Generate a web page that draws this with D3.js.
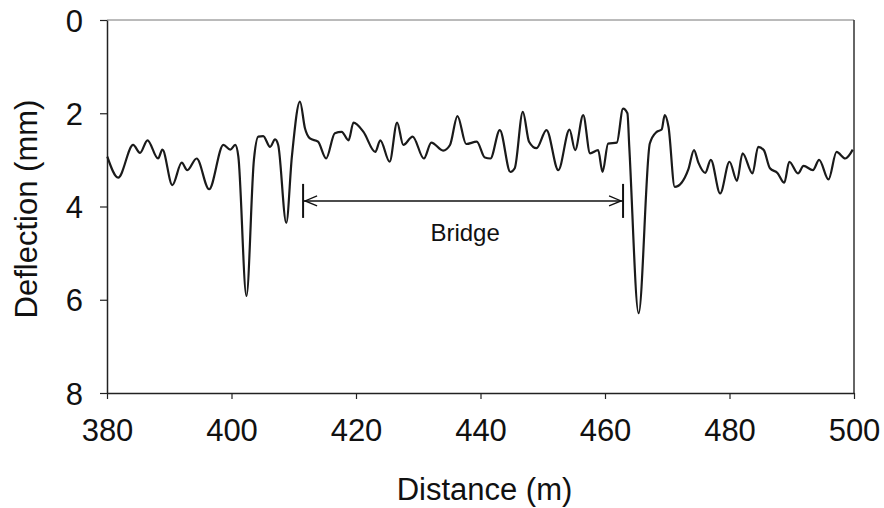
<!DOCTYPE html>
<html>
<head>
<meta charset="utf-8">
<script src="https://cdn.jsdelivr.net/npm/d3@7"></script>
<style>
  body { margin: 0; background: #fff; }
  text { font-family: "Liberation Sans", Arial, sans-serif; fill: #111; }
</style>
</head>
<body>
<svg id="chart" width="884" height="508"></svg>
<script>
const distance = [
  380.05, 381.8, 384.2, 385.3, 386.5, 388.2, 388.9, 390.5, 392.0, 392.9,
  394.4, 396.4, 398.7, 399.8, 400.6, 401.1, 402.4, 403.6, 404.3, 405.1,
  406.2, 407.0, 407.5, 408.8, 409.7, 411.0, 411.8, 412.6, 413.9, 415.2,
  416.6, 417.7, 418.8, 419.6, 421.2, 423.1, 423.9, 425.4, 426.6, 427.6,
  429.1, 430.9, 432.1, 434.0, 435.1, 436.3, 437.7, 439.4, 440.7, 441.6,
  443.1, 444.8, 445.5, 446.8, 447.8, 449.0, 450.6, 452.5, 454.3, 455.2,
  456.5, 457.6, 458.9, 459.6, 460.5, 461.9, 462.9, 463.6, 463.9, 465.4,
  467.2, 468.3, 469.1, 469.6, 470.2, 471.2, 472.3, 473.4, 474.3, 475.0,
  476.1, 477.0, 478.5, 480.0, 481.2, 482.1, 483.7, 484.6, 485.5, 486.5,
  487.7, 488.8, 489.6, 491.0, 491.9, 493.4, 494.4, 495.9, 497.2, 498.6,
  499.8
];
const deflection = [
  2.93, 3.38, 2.68, 2.85, 2.58, 2.97, 2.78, 3.54, 3.06, 3.22,
  2.97, 3.63, 2.68, 2.78, 2.68, 2.93, 5.92, 3.00, 2.50, 2.49,
  2.72, 2.56, 2.68, 4.35, 2.93, 1.75, 2.32, 2.54, 2.61, 2.97,
  2.43, 2.40, 2.58, 2.20, 2.40, 2.83, 2.58, 3.04, 2.20, 2.68,
  2.50, 2.97, 2.63, 2.80, 2.68, 2.06, 2.66, 2.61, 2.95, 2.97,
  2.36, 3.26, 3.18, 1.97, 2.61, 2.75, 2.36, 3.22, 2.35, 2.79,
  2.04, 2.86, 2.79, 3.26, 2.65, 2.63, 1.90, 2.00, 2.72, 6.29,
  2.65, 2.40, 2.35, 2.04, 2.29, 3.58, 3.49, 3.20, 2.79, 3.06,
  3.28, 3.00, 3.72, 3.04, 3.45, 2.86, 3.29, 2.72, 2.79, 3.18,
  3.28, 3.49, 3.04, 3.29, 3.13, 3.22, 3.00, 3.42, 2.83, 2.97,
  2.78
];
const xTicks = [380, 400, 420, 440, 460, 480, 500];
const yTicks = [0, 2, 4, 6, 8];
const bridgeSpan = [411.5, 462.9];   // start / end of the bridge (m)
const bridgeLevel = 3.88;            // deflection level the marker is drawn at
const bridgeLabel = "Bridge";

const svg = d3.select("#chart");
const margin = {top: 20, right: 30, bottom: 115, left: 107};
const width = +svg.attr("width") - margin.left - margin.right;
const height = +svg.attr("height") - margin.top - margin.bottom;

const x = d3.scaleLinear().domain([380, 500]).range([0, width]);
const y = d3.scaleLinear().domain([0, 8]).range([0, height]);

const g = svg.append("g").attr("transform", `translate(${margin.left},${margin.top})`);

// frame: top and right edges
g.append("line").attr("x1", 0).attr("x2", width).attr("y1", 0).attr("y2", 0)
  .attr("stroke", "#777").attr("stroke-width", 1);
g.append("line").attr("x1", width).attr("x2", width).attr("y1", 0).attr("y2", height)
  .attr("stroke", "#333").attr("stroke-width", 1.5);

// axes
const xAxis = g.append("g").attr("transform", `translate(0,${height})`)
  .call(d3.axisBottom(x).tickValues(xTicks).tickSize(6).tickPadding(20).tickSizeOuter(0));
const yAxis = g.append("g")
  .call(d3.axisLeft(y).tickValues(yTicks).tickSize(7).tickPadding(17).tickSizeOuter(0));

[xAxis, yAxis].forEach(a => {
  a.select(".domain").attr("stroke", "#222").attr("stroke-width", 1.5);
  a.selectAll(".tick line").attr("stroke", "#222").attr("stroke-width", 1.2);
  a.selectAll(".tick text").attr("font-size", 31).attr("fill", "#111")
    .attr("font-family", '"Liberation Sans", Arial, sans-serif');
});
yAxis.selectAll(".tick text").attr("dy", "0.36em");

// axis titles
svg.append("text")
  .attr("x", margin.left + width / 2 + 4).attr("y", 500)
  .attr("text-anchor", "middle").attr("font-size", 31)
  .text("Distance (m)");
svg.append("text")
  .attr("transform", `translate(37,${margin.top + 189}) rotate(-90)`)
  .attr("text-anchor", "middle").attr("font-size", 31)
  .text("Deflection (mm)");

// deflection trace
const points = distance.map((d, i) => [d, deflection[i]]);
g.append("path")
  .datum(points)
  .attr("fill", "none")
  .attr("stroke", "#1a1a1a")
  .attr("stroke-width", 2.2)
  .attr("stroke-linejoin", "round")
  .attr("d", d3.line().x(p => x(p[0])).y(p => y(p[1])).curve(d3.curveMonotoneX));

// bridge span marker
const bx0 = x(bridgeSpan[0]), bx1 = x(bridgeSpan[1]), by = y(bridgeLevel);
const marker = g.append("g").attr("stroke", "#111").attr("fill", "none");
marker.append("line").attr("x1", bx0).attr("x2", bx1).attr("y1", by).attr("y2", by)
  .attr("stroke-width", 1.5);
[bx0, bx1].forEach(bx => {
  marker.append("line").attr("x1", bx).attr("x2", bx).attr("y1", by - 17).attr("y2", by + 17)
    .attr("stroke-width", 2);
});
marker.append("path").attr("stroke-width", 1.3)
  .attr("d", `M${bx0 + 14},${by - 5}L${bx0 + 2},${by}L${bx0 + 14},${by + 5}`);
marker.append("path").attr("stroke-width", 1.3)
  .attr("d", `M${bx1 - 14},${by - 5}L${bx1 - 2},${by}L${bx1 - 14},${by + 5}`);

g.append("text")
  .attr("x", (bx0 + bx1) / 2 + 2).attr("y", by + 40)
  .attr("text-anchor", "middle").attr("font-size", 24)
  .text(bridgeLabel);
</script>
</body>
</html>
